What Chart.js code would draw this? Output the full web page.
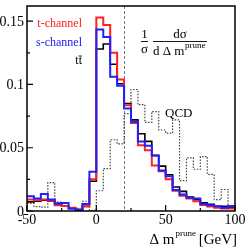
<!DOCTYPE html>
<html><head><meta charset="utf-8">
<script src="https://cdn.jsdelivr.net/npm/chart.js@4.4.1/dist/chart.umd.min.js"></script>
<style>html,body{margin:0;padding:0;background:#fff;}canvas{display:block;}</style>
</head><body>
<canvas id="c" width="248" height="249"></canvas>
<script>
// bin low edges (GeV), 5 GeV bins from -50 to 100
const binEdges = [-50,-45,-40,-35,-30,-25,-20,-15,-10,-5,0,5,10,15,20,25,30,35,40,45,50,55,60,65,70,75,80,85,90,95];
const xMaxEdge = 100;
const tChannel = [0.009,0.0085,0.009,0.0083,0.0045,0.004,0.0025,0.001,0.0035,0.025,0.153,0.147,0.125,0.104,0.0835,0.0695,0.052,0.048,0.036,0.0314,0.025,0.016,0.012,0.0099,0.0078,0.0048,0.0035,0.0025,0.002,0.002];
const sChannel = [0.0117,0.0098,0.0135,0.009,0.0057,0.0063,0.0017,0.0007,0.0055,0.031,0.1435,0.1376,0.106,0.099,0.081,0.0705,0.055,0.0515,0.0437,0.032,0.0274,0.0165,0.013,0.0104,0.0098,0.0056,0.0046,0.0038,0.0025,0.004];
const ttbar = [0.0072,0.0077,0.0085,0.008,0.006,0.0037,0.0023,0.0012,0.005,0.0235,0.128,0.132,0.116,0.1005,0.085,0.072,0.061,0.055,0.044,0.0355,0.0287,0.019,0.0155,0.011,0.009,0.0064,0.0052,0.0038,0.0038,0.003];
const qcd = [0.006,0.0035,0.003,0.0225,0.007,0.004,0.002,0.002,0.0077,0.0005,0.016,0.0335,0.0563,0.053,0.077,0.096,0.084,0.070,0.0786,0.064,0.0616,0.072,0.024,0.042,0.033,0.043,0.029,0.009,0.017,0.004];
const cutValue = 20;
const xTicksMajor = [-50,0,50,100];
const xTickLabels = ["-50","0","50","100"];
const xTicksMinor = [-25,25,75];
const yTicksMajor = [0,0.05,0.1,0.15];
const yTickLabels = ["0","0.05","0.1","0.15"];
const yTicksMinor = [0.025,0.075,0.125];
const seriesLabels = ["t-channel","s-channel","tt"]; // third drawn with an overline on the second t (t t-bar)

function hist(vals){
  const pts = binEdges.map((e,i)=>({x:e,y:vals[i]}));
  pts.push({x:xMaxEdge,y:vals[vals.length-1]});
  return pts;
}

const SERIF = '"Liberation Serif", "DejaVu Serif", serif';

const decor = {
  id:'decor',
  beforeDatasetsDraw(chart){
    const ctx = chart.ctx, xs = chart.scales.x, a = chart.chartArea;
    ctx.save();
    ctx.strokeStyle = '#777'; ctx.lineWidth = 1; ctx.setLineDash([3,2]);
    const px = Math.round(xs.getPixelForValue(cutValue))+0.5;
    ctx.beginPath(); ctx.moveTo(px,a.top); ctx.lineTo(px,a.bottom); ctx.stroke();
    ctx.restore();
  },
  afterDraw(chart){
    const ctx = chart.ctx, xs = chart.scales.x, ys = chart.scales.y, a = chart.chartArea;
    ctx.save();
    ctx.strokeStyle = '#000'; ctx.lineWidth = 1.5; ctx.setLineDash([]);
    ctx.strokeRect(a.left, a.top, a.right-a.left, a.bottom-a.top);
    ctx.lineWidth = 1.2;
    ctx.beginPath();
    yTicksMajor.forEach(v=>{const p=ys.getPixelForValue(v); ctx.moveTo(a.left,p); ctx.lineTo(a.left+6,p);});
    yTicksMinor.forEach(v=>{const p=ys.getPixelForValue(v); ctx.moveTo(a.left,p); ctx.lineTo(a.left+3,p);});
    xTicksMajor.forEach(v=>{const p=xs.getPixelForValue(v); ctx.moveTo(p,a.bottom); ctx.lineTo(p,a.bottom-6);});
    xTicksMinor.forEach(v=>{const p=xs.getPixelForValue(v); ctx.moveTo(p,a.bottom); ctx.lineTo(p,a.bottom-3);});
    ctx.stroke();
    ctx.fillStyle = '#000';
    ctx.font = '14px '+SERIF;
    ctx.textAlign = 'right'; ctx.textBaseline = 'middle';
    yTicksMajor.forEach((v,i)=>{ctx.fillText(yTickLabels[i], a.left-3, ys.getPixelForValue(v)+1);});
    ctx.textAlign = 'center'; ctx.textBaseline = 'alphabetic';
    xTicksMajor.forEach((v,i)=>{ctx.fillText(xTickLabels[i], xs.getPixelForValue(v), a.bottom+13);});
    // x title
    ctx.textAlign='left';
    const t1 = '\u0394 m', t3 = ' [GeV]';
    ctx.font = '9px '+SERIF; const wsup = ctx.measureText('prune').width;
    ctx.font = '15px '+SERIF;
    const w1 = ctx.measureText(t1).width, w3 = ctx.measureText(t3).width;
    let x0 = a.right+2 - (w1+wsup+w3);
    const yb = 244;
    ctx.fillText(t1, x0, yb);
    ctx.font = '9px '+SERIF; ctx.fillText('prune', x0+w1+1, yb-8);
    ctx.font = '15px '+SERIF; ctx.fillText(t3, x0+w1+wsup, yb);
    // legend labels
    ctx.font = '12px '+SERIF; ctx.textAlign='right';
    ctx.fillStyle = '#ff2020'; ctx.fillText(seriesLabels[0], 82, 27);
    ctx.fillStyle = '#2020ff'; ctx.fillText(seriesLabels[1], 82, 46);
    ctx.fillStyle = '#000';
    ctx.fillText(seriesLabels[2], 82, 64);
    ctx.strokeStyle = '#000';
    ctx.lineWidth = 0.8; ctx.beginPath(); ctx.moveTo(78.5,56); ctx.lineTo(82,56); ctx.stroke();
    // QCD label
    ctx.font = '13px '+SERIF; ctx.textAlign='left';
    ctx.fillText('QCD', 165, 117);
    // formula
    ctx.font = '13px '+SERIF; ctx.textAlign='center';
    ctx.fillText('1', 144.5, 38);
    ctx.fillText('\u03c3', 144.5, 53);
    ctx.lineWidth = 0.9;
    ctx.beginPath(); ctx.moveTo(141,41.5); ctx.lineTo(148,41.5); ctx.stroke();
    ctx.fillText('d\u03c3', 180, 38);
    ctx.beginPath(); ctx.moveTo(153,41.5); ctx.lineTo(207,41.5); ctx.stroke();
    ctx.textAlign='left';
    ctx.fillText('d \u0394 m', 153, 55);
    ctx.font = '9px '+SERIF;
    ctx.fillText('prune', 185, 48);
    ctx.restore();
  }
};

new Chart(document.getElementById('c'), {
  type:'line',
  data:{datasets:[
    {label:'s-channel', data:hist(sChannel), borderColor:'#2020ff', borderWidth:2, stepped:true, pointRadius:0, fill:false},
    {label:'t-channel', data:hist(tChannel), borderColor:'#ff2020', borderWidth:2, stepped:true, pointRadius:0, fill:false},
    {label:'ttbar', data:hist(ttbar), borderColor:'#000000', borderWidth:1.6, stepped:true, pointRadius:0, fill:false},
    {label:'QCD', data:hist(qcd), borderColor:'#444444', borderWidth:1.2, borderDash:[1.5,1.5], stepped:true, pointRadius:0, fill:false}
  ]},
  options:{
    responsive:false, animation:false, devicePixelRatio:1,
    layout:{padding:{left:27,right:13,top:6,bottom:38}},
    plugins:{legend:{display:false}, tooltip:{enabled:false}},
    scales:{
      x:{type:'linear', min:-50, max:100, display:false},
      y:{type:'linear', min:0, max:0.162, display:false}
    }
  },
  plugins:[decor]
});
</script>
</body></html>
